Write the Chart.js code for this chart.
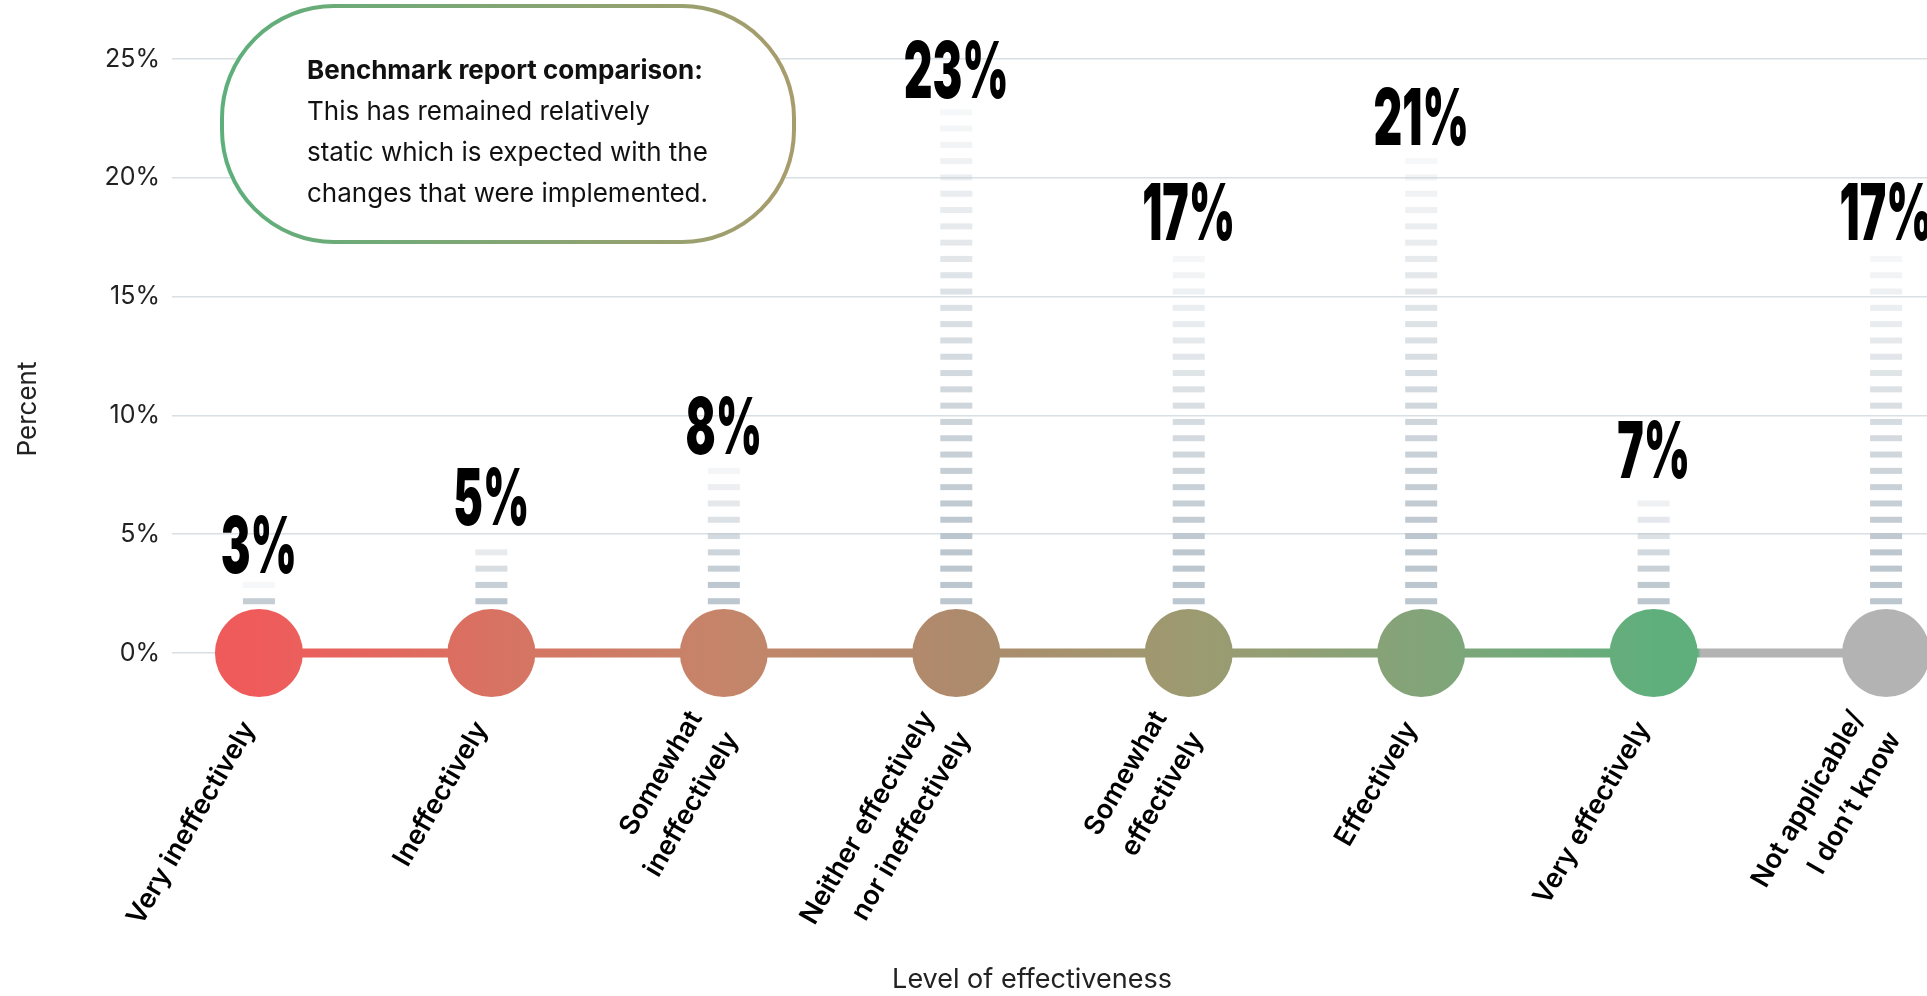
<!DOCTYPE html>
<html>
<head>
<meta charset="utf-8">
<title>Level of effectiveness</title>
<script src="https://cdn.jsdelivr.net/npm/chart.js@4.4.1/dist/chart.umd.min.js"></script>
<style>
  html, body { margin: 0; padding: 0; background: #fff; }
  #wrap { width: 1927px; height: 996px; }
</style>
</head>
<body>
<div id="wrap"><canvas id="chart" width="1927" height="996"></canvas></div>
<script>
var categories = ['Very ineffectively', 'Ineffectively', 'Somewhat ineffectively',
    'Neither effectively nor ineffectively', 'Somewhat effectively', 'Effectively',
    'Very effectively', 'Not applicable/ I don\u2019t know'];
var tickLabels = [['Very ineffectively'], ['Ineffectively'], ['Somewhat', 'ineffectively'],
    ['Neither effectively', 'nor ineffectively'], ['Somewhat', 'effectively'], ['Effectively'],
    ['Very effectively'], ['Not applicable/', 'I don\u2019t know']];
var percents = [3, 5, 8, 23, 17, 21, 7, 17];
var baseline = [0, 0, 0, 0, 0, 0, 0, 0];
var yTicks = [0, 5, 10, 15, 20, 25];
var markerColors = ['#ef5b5b', '#d87262', '#c5856a', '#ae8a6c', '#9d9a70', '#83a479', '#5faf7c', '#b3b3b3'];
var noteTitle = 'Benchmark report comparison:';
var noteLines = ['This has remained relatively', 'static which is expected with the', 'changes that were implemented.'];

var POINT_R = 44;
var DASH_H = 6;
var DASH_STEP = 16.3;
var LABEL_ANGLE = 60;

Chart.defaults.font.family = 'Inter';

// red -> green ribbon along the markers, grey for the last (n/a) one
var ribbonCache = null;
function ribbon(context) {
    var chart = context.chart;
    if (!chart.chartArea || !chart.scales.x) return markerColors[0];
    var xs = chart.scales.x;
    var n = categories.length - 1;
    var first = xs.getPixelForValue(0), last = xs.getPixelForValue(n);
    var key = first + ':' + last;
    if (ribbonCache && ribbonCache.key === key) return ribbonCache.grad;
    var span = last - first;
    var g = chart.ctx.createLinearGradient(first, 0, last, 0);
    for (var i = 0; i < n; i++) g.addColorStop(i / n, markerColors[i]);
    var edge = (xs.getPixelForValue(n - 1) + POINT_R - first) / span;
    g.addColorStop(edge, markerColors[n - 1]);
    g.addColorStop(edge + 0.002, markerColors[n]);
    g.addColorStop(1, markerColors[n]);
    ribbonCache = { key: key, grad: g };
    return g;
}

function roundBox(ctx, x, y, w, h, r) {
    ctx.beginPath();
    ctx.moveTo(x + r, y);
    ctx.lineTo(x + w - r, y);
    ctx.arcTo(x + w, y, x + w, y + r, r);
    ctx.lineTo(x + w, y + h - r);
    ctx.arcTo(x + w, y + h, x + w - r, y + h, r);
    ctx.lineTo(x + r, y + h);
    ctx.arcTo(x, y + h, x, y + h - r, r);
    ctx.lineTo(x, y + r);
    ctx.arcTo(x, y, x + r, y, r);
    ctx.closePath();
}

// dashed stems, fading out towards the top of each bar
var stems = {
    id: 'stems',
    beforeDatasetsDraw: function (chart) {
        var meta = chart.getDatasetMeta(1);
        var ctx = chart.ctx;
        ctx.save();
        ctx.fillStyle = '#bcc6ce';
        meta.data.forEach(function (bar) {
            var top = bar.y;
            var bottom = bar.base - POINT_R - 4;
            var w = bar.width;
            for (var y = bottom - DASH_H; y > top; y -= DASH_STEP) {
                var t = (y - top) / (bottom - top);
                ctx.globalAlpha = Math.min(1, 0.14 + t);
                ctx.fillRect(bar.x - w / 2, y, w, DASH_H);
            }
        });
        ctx.restore();
    }
};

var valueLabels = {
    id: 'valueLabels',
    afterDatasetsDraw: function (chart) {
        var meta = chart.getDatasetMeta(1);
        var ctx = chart.ctx;
        ctx.save();
        ctx.fillStyle = '#000';
        ctx.font = '900 78px Inter';
        ctx.textAlign = 'center';
        ctx.textBaseline = 'alphabetic';
        meta.data.forEach(function (bar, i) {
            ctx.save();
            ctx.translate(bar.x, bar.y - 9);
            ctx.scale(0.57, 1);
            ctx.fillText(percents[i] + '%', 0, 0);
            ctx.restore();
        });
        ctx.restore();
    }
};

// slanted category names, multi-line ones centred on their tick
var categoryLabels = {
    id: 'categoryLabels',
    afterDraw: function (chart) {
        var xs = chart.scales.x;
        var ctx = chart.ctx;
        var lh = 42;
        ctx.save();
        ctx.fillStyle = '#000';
        ctx.font = '600 27px Inter';
        ctx.textAlign = 'right';
        ctx.textBaseline = 'middle';
        tickLabels.forEach(function (lines, i) {
            ctx.save();
            ctx.translate(xs.getPixelForValue(i) - 10, chart.chartArea.bottom + 71);
            ctx.rotate(-LABEL_ANGLE * Math.PI / 180);
            lines.forEach(function (line, j) {
                ctx.fillText(line, 0, (j - (lines.length - 1) / 2) * lh);
            });
            ctx.restore();
        });
        ctx.restore();
    }
};

// callout box and the axis titles
var note = {
    id: 'note',
    afterDraw: function (chart) {
        var ctx = chart.ctx;
        var x = 222, y = 6, w = 572, h = 236;
        ctx.save();
        roundBox(ctx, x, y, w, h, 112);
        ctx.fillStyle = '#fff';
        ctx.fill();
        var g = ctx.createLinearGradient(x, 0, x + w, 0);
        g.addColorStop(0, '#5daf7b');
        g.addColorStop(1, '#a89c6c');
        ctx.strokeStyle = g;
        ctx.lineWidth = 4;
        ctx.stroke();
        ctx.fillStyle = '#111';
        ctx.textBaseline = 'middle';
        ctx.textAlign = 'left';
        ctx.font = '700 26px Inter';
        ctx.fillText(noteTitle, 307, 71);
        ctx.font = '400 26px Inter';
        noteLines.forEach(function (line, i) {
            ctx.fillText(line, 307, 112 + i * 41);
        });

        ctx.fillStyle = '#222';
        ctx.textAlign = 'center';
        ctx.font = '400 27px Inter';
        ctx.fillText('Level of effectiveness', 1032, 980);

        ctx.translate(28, 409);
        ctx.rotate(-Math.PI / 2);
        ctx.font = '400 26px Inter';
        ctx.fillText('Percent', 0, 0);
        ctx.restore();
    }
};

new Chart(document.getElementById('chart'), {
    data: {
        datasets: [{
            type: 'line',
            data: baseline.map(function (v, i) { return { x: i, y: v }; }),
            borderColor: ribbon,
            borderWidth: 9,
            pointRadius: POINT_R,
            pointBackgroundColor: ribbon,
            pointBorderWidth: 0,
            pointHoverRadius: POINT_R,
            clip: false,
            order: 0
        }, {
            type: 'bar',
            data: percents.map(function (v, i) { return { x: i, y: v }; }),
            backgroundColor: 'rgba(0,0,0,0)',
            barThickness: 32,
            clip: false,
            order: 1
        }]
    },
    options: {
        responsive: false,
        animation: false,
        events: [],
        layout: { autoPadding: false, padding: { top: 59, right: 0, bottom: 0, left: 0 } },
        plugins: { legend: { display: false }, tooltip: { enabled: false } },
        scales: {
            x: {
                type: 'linear',
                offset: false,
                min: -0.374,
                max: 7.176,
                grid: { display: false },
                border: { display: false },
                ticks: { display: false },
                afterBuildTicks: function (axis) {
                    axis.ticks = categories.map(function (c, i) { return { value: i }; });
                },
                afterFit: function (axis) {
                    axis.height = 343;
                    axis.paddingLeft = 0;
                    axis.paddingRight = 0;
                }
            },
            y: {
                min: 0,
                max: 25,
                afterBuildTicks: function (axis) {
                    axis.ticks = yTicks.map(function (v) { return { value: v }; });
                },
                afterFit: function (axis) {
                    axis.width = 172;
                    axis.paddingTop = 0;
                    axis.paddingBottom = 0;
                },
                grid: { color: '#d8dfe5', lineWidth: 1.5, drawTicks: false },
                border: { display: false },
                ticks: {
                    padding: 12,
                    color: '#222',
                    font: { size: 25 },
                    callback: function (v) { return v + '%'; }
                }
            }
        }
    },
    plugins: [stems, valueLabels, categoryLabels, note]
});
</script>
</body>
</html>
